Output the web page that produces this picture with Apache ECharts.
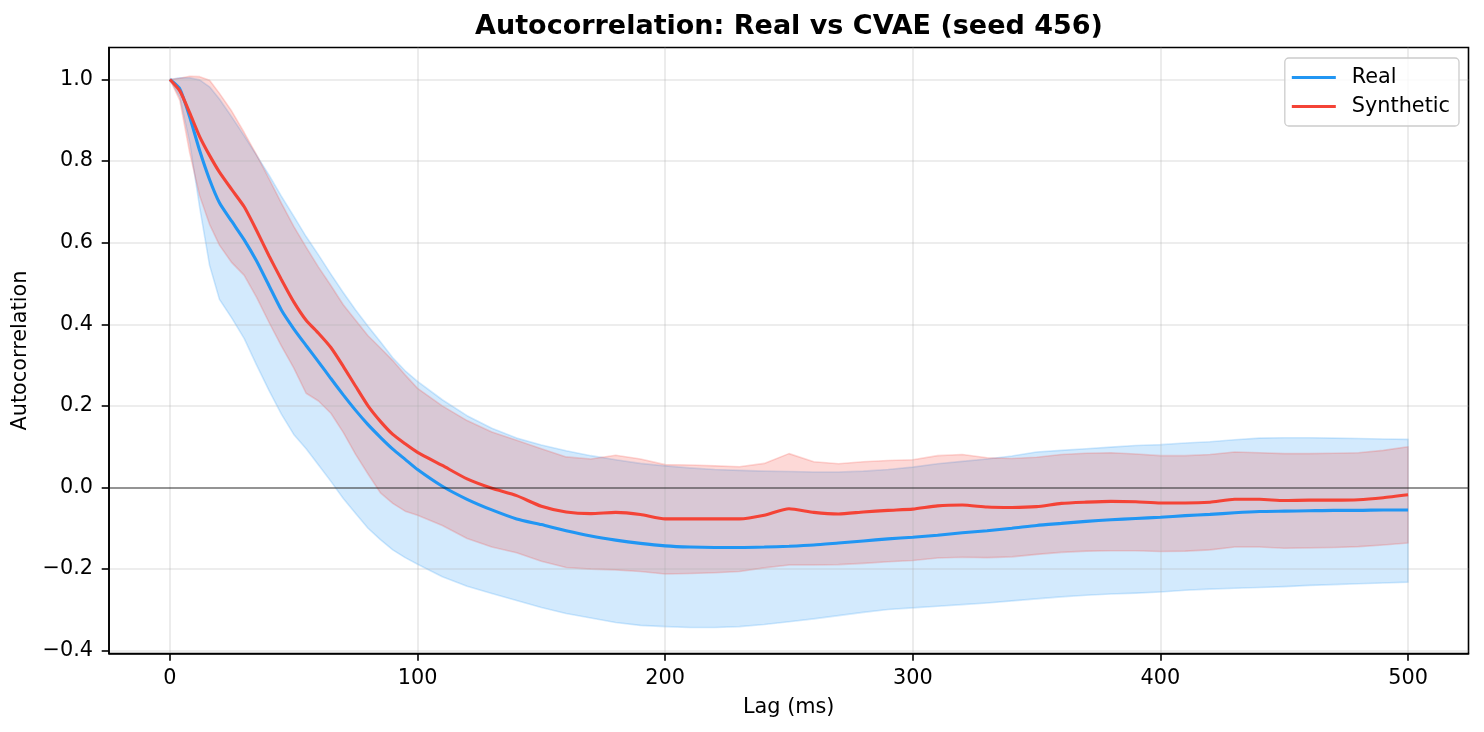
<!DOCTYPE html>
<html>
<head>
<meta charset="utf-8">
<script src="https://cdn.jsdelivr.net/npm/echarts@6/dist/echarts.min.js"></script>
<style>
html,body{margin:0;padding:0;background:#fff;}
#chart{width:1484px;height:732px;}
</style>
</head>
<body>
<div id="chart"></div>
<script>
const lags = [0,4,8,12,16,20,25,30,35,40,45,50,55,60,65,70,75,80,85,90,95,100,
  110,120,130,140,150,160,170,180,190,200,210,220,230,240,250,260,270,280,290,300,
  310,320,330,340,350,360,370,380,390,400,410,420,430,440,450,460,470,480,490,500];

const realMean = [1.0,0.977,0.908,0.826,0.755,0.698,0.652,0.607,0.555,0.495,0.435,0.389,0.348,0.308,0.267,0.227,0.189,0.154,0.123,0.094,0.069,0.044,
  0.003,-0.029,-0.055,-0.077,-0.091,-0.106,-0.119,-0.129,-0.137,-0.143,-0.146,-0.147,-0.147,-0.146,-0.144,-0.141,-0.136,-0.131,-0.126,-0.122,
  -0.117,-0.111,-0.106,-0.100,-0.093,-0.088,-0.083,-0.079,-0.076,-0.073,-0.069,-0.066,-0.062,-0.059,-0.058,-0.057,-0.056,-0.056,-0.055,-0.055];

const realHigh = [1.0,1.004,1.004,0.999,0.982,0.952,0.908,0.862,0.814,0.766,0.714,0.665,0.615,0.570,0.523,0.478,0.435,0.395,0.357,0.318,0.286,0.260,
  0.215,0.176,0.145,0.121,0.104,0.090,0.078,0.068,0.059,0.053,0.048,0.044,0.042,0.040,0.039,0.038,0.038,0.040,0.044,0.050,
  0.058,0.064,0.070,0.077,0.087,0.091,0.095,0.099,0.103,0.105,0.109,0.112,0.117,0.121,0.122,0.122,0.121,0.120,0.119,0.118];

const realLow = [1.0,0.957,0.845,0.687,0.545,0.461,0.415,0.365,0.300,0.238,0.180,0.130,0.095,0.055,0.015,-0.027,-0.064,-0.100,-0.128,-0.153,-0.172,-0.188,
  -0.219,-0.242,-0.260,-0.277,-0.294,-0.309,-0.320,-0.331,-0.338,-0.341,-0.343,-0.343,-0.341,-0.336,-0.329,-0.322,-0.314,-0.306,-0.299,-0.295,
  -0.291,-0.287,-0.283,-0.278,-0.273,-0.268,-0.264,-0.261,-0.259,-0.256,-0.252,-0.249,-0.247,-0.245,-0.243,-0.240,-0.238,-0.236,-0.234,-0.232];

const synthMean = [1.0,0.972,0.918,0.860,0.814,0.773,0.730,0.688,0.630,0.568,0.510,0.455,0.410,0.378,0.343,0.297,0.248,0.200,0.162,0.130,0.107,0.086,
  0.054,0.021,-0.002,-0.020,-0.046,-0.060,-0.064,-0.061,-0.066,-0.077,-0.077,-0.077,-0.077,-0.068,-0.052,-0.061,-0.065,-0.060,-0.056,-0.053,
  -0.045,-0.043,-0.048,-0.049,-0.047,-0.039,-0.036,-0.034,-0.035,-0.038,-0.038,-0.036,-0.029,-0.029,-0.032,-0.031,-0.031,-0.030,-0.025,-0.018];

const synthHigh = [1.0,1.003,1.008,1.007,0.998,0.966,0.922,0.870,0.815,0.757,0.697,0.640,0.589,0.540,0.495,0.448,0.410,0.372,0.342,0.311,0.276,0.243,
  0.200,0.164,0.136,0.116,0.095,0.075,0.070,0.079,0.070,0.056,0.055,0.053,0.051,0.059,0.083,0.063,0.058,0.063,0.066,0.068,
  0.078,0.081,0.073,0.071,0.074,0.081,0.084,0.085,0.082,0.078,0.078,0.081,0.087,0.085,0.083,0.083,0.084,0.085,0.091,0.100];

const synthLow = [1.0,0.949,0.820,0.715,0.645,0.594,0.551,0.520,0.466,0.405,0.347,0.293,0.231,0.212,0.182,0.135,0.081,0.033,-0.013,-0.039,-0.058,-0.068,
  -0.093,-0.125,-0.146,-0.160,-0.181,-0.196,-0.200,-0.202,-0.206,-0.212,-0.211,-0.209,-0.206,-0.197,-0.190,-0.190,-0.189,-0.186,-0.182,-0.179,
  -0.173,-0.171,-0.172,-0.170,-0.164,-0.159,-0.156,-0.155,-0.155,-0.157,-0.156,-0.153,-0.146,-0.146,-0.149,-0.148,-0.147,-0.145,-0.141,-0.136];

const xTicks = [0,100,200,300,400,500];
const yTicks = [-0.4,-0.2,0.0,0.2,0.4,0.6,0.8,1.0];

const BLUE = '#2196F3';
const RED = '#F44336';
const FONT = 'DejaVu Sans';

function pairs(ys){ return lags.map((l,i)=>[l, ys[i]]); }

function band(name, lo, hi, rgb){
  return {
    type:'custom', name:name, z:1, silent:true, clip:true,
    data:[[lags[0], hi[0]]],
    renderItem:function(params, api){
      const pts = [];
      for (let i=0;i<lags.length;i++) pts.push(api.coord([lags[i], hi[i]]));
      for (let i=lags.length-1;i>=0;i--) pts.push(api.coord([lags[i], lo[i]]));
      return {type:'polygon', shape:{points:pts},
        style:{fill:'rgba('+rgb+',0.2)', stroke:'rgba('+rgb+',0.2)', lineWidth:1.6, lineJoin:'round'}};
    }
  };
}

const chart = echarts.init(document.getElementById('chart'), null, {renderer:'canvas'});
chart.setOption({
  animation:false,
  backgroundColor:'#ffffff',
  textStyle:{fontFamily:FONT, color:'#000'},
  title:{
    text:'Autocorrelation: Real vs CVAE (seed 456)',
    left:789, top:13, textAlign:'center', padding:0,
    textStyle:{fontFamily:FONT, fontSize:27, fontWeight:'bold', color:'#000'}
  },
  legend:{
    data:[{name:'Real', icon:'rect'},{name:'Synthetic', icon:'rect'}],
    orient:'vertical', right:25, top:58,
    padding:[9,9,9,7], itemGap:8, itemWidth:44, itemHeight:3.1,
    backgroundColor:'rgba(255,255,255,0.8)', borderColor:'#cccccc', borderWidth:1.3, borderRadius:4,
    textStyle:{fontFamily:FONT, fontSize:20.8, color:'#000', padding:[0,0,0,11]}
  },
  grid:{left:109, top:47.5, width:1359.5, height:606, show:true, borderColor:'#000', borderWidth:1.6, backgroundColor:'transparent'},
  xAxis:{
    type:'value', min:-24.6, max:524.4, z:2,
    name:'Lag (ms)', nameLocation:'middle', nameGap:44,
    nameTextStyle:{fontFamily:FONT, fontSize:20.8, color:'#000'},
    axisLine:{show:true, onZero:false, lineStyle:{color:'#000', width:1.6}},
    axisTick:{show:true, length:7.3, customValues:xTicks, lineStyle:{color:'#000', width:1.6}},
    axisLabel:{customValues:xTicks, fontFamily:FONT, fontSize:20.8, color:'#000', margin:15,
      formatter:function(v){return String(Math.round(v));}},
    splitLine:{show:true, lineStyle:{color:'rgba(176,176,176,0.3)', width:1.6}}
  },
  yAxis:{
    type:'value', min:-0.4069, max:1.0784, z:2,
    name:'Autocorrelation', nameLocation:'middle', nameGap:71,
    nameTextStyle:{fontFamily:FONT, fontSize:20.8, color:'#000'},
    axisLine:{show:true, onZero:false, lineStyle:{color:'#000', width:1.6}},
    axisTick:{show:true, length:7.3, customValues:yTicks, lineStyle:{color:'#000', width:1.6}},
    axisLabel:{customValues:yTicks, fontFamily:FONT, fontSize:20.8, color:'#000', margin:16,
      formatter:function(v){return v.toFixed(1).replace('-', '\u2212');}},
    splitLine:{show:true, lineStyle:{color:'rgba(176,176,176,0.3)', width:1.6}}
  },
  series:[
    band('Real band', realLow, realHigh, '33,150,243'),
    band('Synthetic band', synthLow, synthHigh, '244,67,54'),
    {
      type:'line', name:'Real', z:3, data:pairs(realMean), symbol:'none', smooth:0.2,
      lineStyle:{color:BLUE, width:3.1}, itemStyle:{color:BLUE},
      markLine:{silent:true, symbol:['none','none'], label:{show:false},
        lineStyle:{color:'rgba(0,0,0,0.5)', width:1.6, type:'solid'}, data:[{yAxis:0}]}
    },
    {
      type:'line', name:'Synthetic', z:4, data:pairs(synthMean), symbol:'none', smooth:0.2,
      lineStyle:{color:RED, width:3.1}, itemStyle:{color:RED}
    }
  ]
});
</script>
</body>
</html>
